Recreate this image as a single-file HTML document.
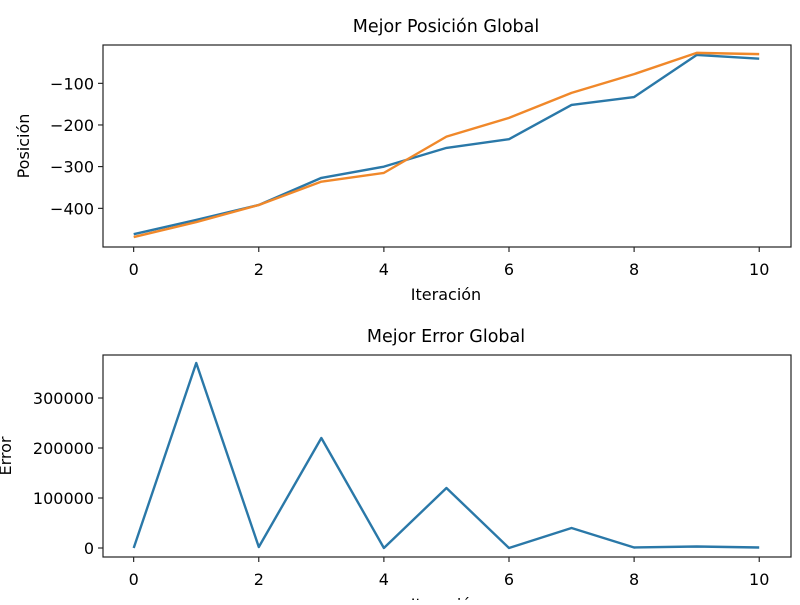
<!DOCTYPE html>
<html><head><meta charset="utf-8"><style>
body{margin:0;background:#fff;width:800px;height:600px;overflow:hidden}
svg{font-family:"DejaVu Sans","Liberation Sans",sans-serif}
</style></head><body>
<svg id="c" width="800" height="600" xmlns="http://www.w3.org/2000/svg"></svg>
<script>
const iterations=[0,1,2,3,4,5,6,7,8,9,10];
const posBlue=[-462,-428,-392,-327,-300,-255,-234,-152,-133,-32,-41];
const posOrange=[-469,-433,-392,-336,-315,-228,-183,-123,-78,-27,-30];
const errorValues=[0,370000,2000,220000,0,120000,0,40000,1000,3000,1000];
const xTicks=[0,2,4,6,8,10];
const posTicks=[-100,-200,-300,-400];
const errTicks=[0,100000,200000,300000];
const NS="http://www.w3.org/2000/svg";
const svg=document.getElementById('c');
function mk(tag,attrs,parent){const e=document.createElementNS(NS,tag);for(const k in attrs)e.setAttribute(k,attrs[k]);(parent||svg).appendChild(e);return e;}
const xs=v=>133.7+v*62.55;
function panel(top,bottom,yScale,yTicks,title,ylabel,series,prefix,ylabX){
  const g=mk('g',{});
  
  
  const t=mk('text',{x:446,y:top-13,'font-size':'17.5','text-anchor':'middle',fill:'#000'},g);t.textContent=title;
  
  
  xTicks.forEach(v=>{const x=xs(v);
    mk('line',{x1:x,x2:x,y1:bottom,y2:bottom+5,stroke:'#000','stroke-width':1},g);
    const l=mk('text',{x:x,y:bottom+28,'font-size':'16','text-anchor':'middle'},g);l.textContent=v;
    
    });
  yTicks.forEach(v=>{const y=yScale(v);
    mk('line',{x1:98,x2:103,y1:y,y2:y,stroke:'#000','stroke-width':1},g);
    const l=mk('text',{x:94,y:y+6,'font-size':'16','text-anchor':'end'},g);l.textContent=String(v).replace('-','\u2212');
    
    });
  const xl=mk('text',{x:446,y:bottom+53,'font-size':'16','text-anchor':'middle'},g);xl.textContent='Iteración';
  
  
  const yl=mk('text',{x:0,y:0,'font-size':'16','text-anchor':'middle',transform:`translate(${ylabX},${(top+bottom)/2}) rotate(-90)`},g);yl.textContent=ylabel;
  
  
  series.forEach(([vals,col,name])=>{
    const p=mk('polyline',{points:vals.map((v,i)=>xs(iterations[i])+','+yScale(v)).join(' '),fill:'none',stroke:col,'stroke-width':2.4,'stroke-linejoin':'round'},g);
    
    
  });
  const r=mk('rect',{x:103,y:top,width:688,height:bottom-top,fill:'none',stroke:'#222','stroke-width':1.2},g);
  
  
}
const yPos=v=>83.3+(-100-v)*0.4167;
const yErr=v=>548-v*0.0005;
panel(45,247,yPos,posTicks,'Mejor Posición Global','Posición',[[posBlue,'#2a78a8','position-line-blue'],[posOrange,'#f0882a','position-line-orange']],'position',29);
panel(355,557,yErr,errTicks,'Mejor Error Global','Error',[[errorValues,'#2a78a8','error-line']],'error',11);
</script>
</body></html>
